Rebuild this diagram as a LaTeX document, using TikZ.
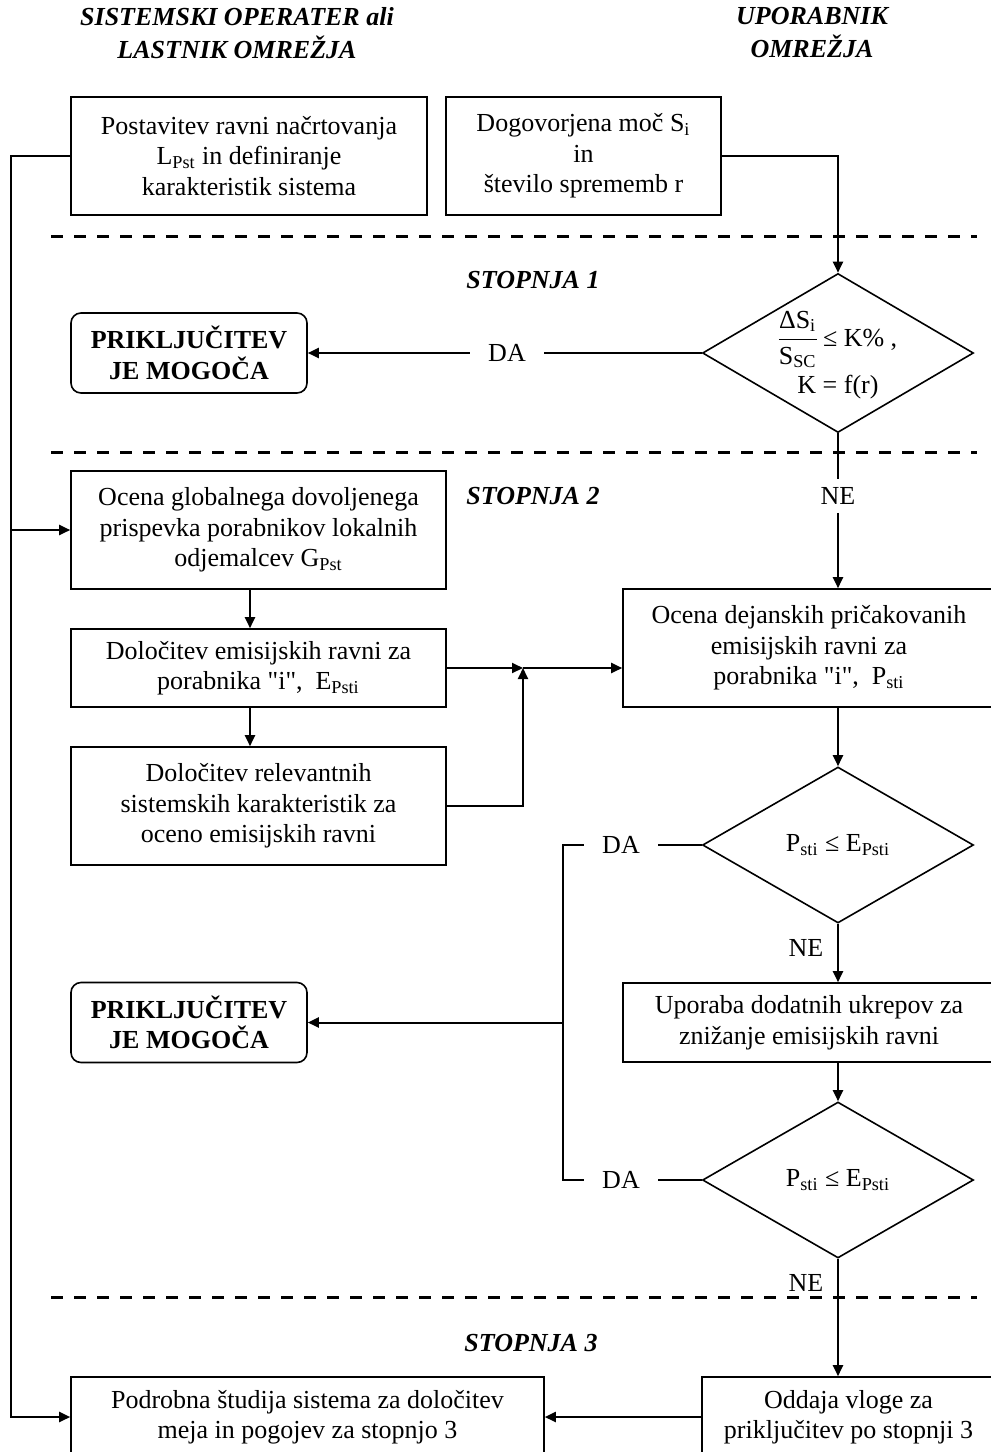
\documentclass[tikz,border=0pt]{standalone}
\usepackage{fontspec}
\setmainfont{Liberation Serif}[Ligatures=TeXOff]
\usepackage{tikz,xcolor}
\usetikzlibrary{shapes.geometric,arrows.meta,calc}
\newcommand{\boxfont}{\fontsize{13}{15.25}\selectfont}
\newcommand{\headfont}{\fontsize{13}{16.5}\selectfont\bfseries\itshape}
\tikzset{
  % plain step box, width and height given
  box/.style 2 args={draw, line width=0.8pt, minimum width=#1, minimum height=#2,
    inner sep=0pt, align=center, font=\boxfont},
  % rounded end box
  endbox/.style={draw, line width=0.8pt, rounded corners=5pt, minimum width=118pt,
    minimum height=40pt, inner sep=0pt, align=center, font=\boxfont\bfseries},
  % decision diamond, text goes in as a centre label
  cond/.style={draw, diamond, line width=0.8pt, minimum width=135.5pt,
    minimum height=#1, inner sep=0pt},
  % labels on the connectors
  answer/.style={inner xsep=9pt, inner ysep=4pt, font=\boxfont},
  stage/.style={font=\headfont, align=center},
  flow/.style={line width=1pt, -{Triangle[length=5.5pt,width=5pt]}},
  plain/.style={line width=1pt},
  stage line/.style={line width=1.5pt, dash pattern=on 6pt off 5.5pt},
}
\begin{document}
\begin{tikzpicture}[x=0.5pt, y=-0.5pt]
\useasboundingbox (0,0) rectangle (991,1452);
% headings
\node[stage] (head1) at (237,33) {SISTEMSKI OPERATER ali\\LASTNIK OMREŽJA};
\node[stage] (head2) at (812,33) {UPORABNIK\\OMREŽJA};
% top boxes
\node[box={178pt}{59pt}] (pos) at (249,156)
  {Postavitev ravni načrtovanja\\L\textsubscript{Pst} in definiranje\\karakteristik sistema};
\node[box={137.5pt}{59pt}] (dog) at (583.5,156)
  {Dogovorjena moč S\textsubscript{i}\\in\\število sprememb r};
% stage borders
\draw[stage line] (51,236) -- (977,236);
\draw[stage line] (51,452) -- (977,452);
\draw[stage line] (51,1297) -- (977,1297);
\node[stage] (stop1) at (533,280) {STOPNJA 1};
\node[stage] (stop2) at (533,496) {STOPNJA 2};
\node[stage] (stop3) at (531,1343) {STOPNJA 3};
% stage 1
\node[cond=79.5pt, label={[font=\boxfont, align=center]center:
  \begin{tabular}{@{}c@{}}ΔS\textsubscript{i}\\[1pt]\hline\rule{0pt}{12pt}S\textsubscript{SC}\end{tabular} ≤ K\% ,\\[0pt]K = f(r)}]
  (dia1) at (838,353) {};
\node[endbox] (prik1) at (189,353) {PRIKLJUČITEV\\JE MOGOČA};
\node[answer] (da1) at (507,353) {DA};
\node[answer] (ne1) at (838,496) {NE};
% stage 2
\node[box={187.5pt}{59pt}] (ocg) at (258.5,530)
  {Ocena globalnega dovoljenega\\prispevka porabnikov lokalnih\\odjemalcev G\textsubscript{Pst}};
\node[box={187.5pt}{39pt}] (dol1) at (258.5,668)
  {Določitev emisijskih ravni za\\porabnika "i",\ \ E\textsubscript{Psti}};
\node[box={187.5pt}{59pt}] (dol2) at (258.5,806)
  {Določitev relevantnih\\sistemskih karakteristik za\\oceno emisijskih ravni};
\node[box={186pt}{59pt}] (ocd) at (809,648)
  {Ocena dejanskih pričakovanih\\emisijskih ravni za\\porabnika "i",\ \ P\textsubscript{sti}};
\node[cond=78pt, label={[font=\boxfont]center:P\textsubscript{sti} ≤ E\textsubscript{Psti}}]
  (dia2) at (838,845) {};
\node[answer] (da2) at (621,845) {DA};
\node[answer] (ne2) at (806,948) {NE};
\node[endbox] (prik2) at (189,1022.5) {PRIKLJUČITEV\\JE MOGOČA};
\node[box={186pt}{39.5pt}] (upo) at (809,1022.5)
  {Uporaba dodatnih ukrepov za\\znižanje emisijskih ravni};
\node[cond=78pt, label={[font=\boxfont]center:P\textsubscript{sti} ≤ E\textsubscript{Psti}}]
  (dia3) at (838,1180) {};
\node[answer] (da3) at (621,1180) {DA};
\node[answer] (ne3) at (806,1283) {NE};
% stage 3
\node[box={236.5pt}{40pt}] (pod) at (307.5,1417)
  {Podrobna študija sistema za določitev\\meja in pogojev za stopnjo 3};
\node[box={146.5pt}{40pt}] (odd) at (848.5,1417)
  {Oddaja vloge za\\priključitev po stopnji 3};
\coordinate (lft) at (11,156);
\coordinate (jn) at (523,668);
\coordinate (brm) at (563,1022.5);
% connectors
\draw[flow] (pos.west) -- (lft) |- (pod.west);
\draw[flow] (lft |- ocg.west) -- (ocg.west);
\draw[flow] (dog.east) -| (dia1.north);
\draw[plain] (dia1.west) -- (da1.east);
\draw[flow] (da1.west) -- (prik1.east);
\draw[plain] (dia1.south) -- (ne1.north);
\draw[flow] (ne1.south) -- (ne1.south |- ocd.north);
\draw[flow] ([xshift=-4.25pt]ocg.south) -- ([xshift=-4.25pt]dol1.north);
\draw[flow] ([xshift=-4.25pt]dol1.south) -- ([xshift=-4.25pt]dol2.north);
\draw[flow] (dol1.east) -- (jn);
\draw[flow] (dol2.east) -| (jn);
\draw[flow] (jn) -- (jn -| ocd.west);
\draw[flow] (ocd.south -| dia2.north) -- (dia2.north);
\draw[plain] (dia2.west) -- (da2.east);
\draw[plain] (da2.west) -| (brm) |- (da3.west);
\draw[flow] (brm) -- (prik2.east);
\draw[flow] (dia2.south) -- (dia2.south |- upo.north);
\draw[flow] (upo.south -| dia3.north) -- (dia3.north);
\draw[plain] (dia3.west) -- (da3.east);
\draw[flow] (dia3.south) -- (dia3.south |- odd.north);
\draw[flow] (odd.west) -- (pod.east);
\end{tikzpicture}
\end{document}
